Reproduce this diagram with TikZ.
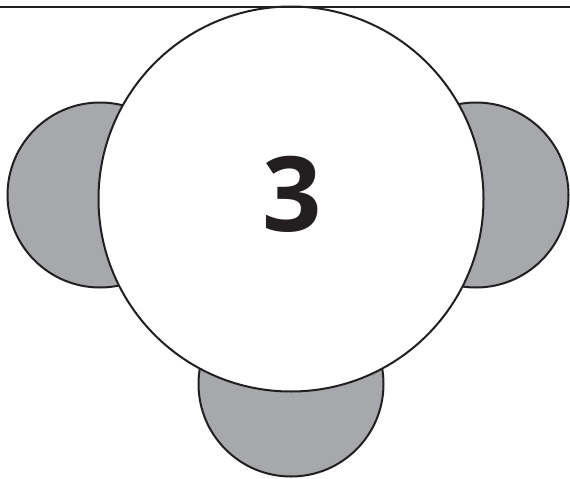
\documentclass[tikz,border=0pt]{standalone}
\usepackage{fontspec}
\usepackage{xcolor}
\usepackage{tikz}
\usetikzlibrary{positioning}
\newfontfamily\numfont{Open Sans}
\definecolor{inkline}{HTML}{231F20}
\definecolor{seatgray}{HTML}{A7A8AB}

\begin{document}
\begin{tikzpicture}[
  x=1pt, y=-1pt,
  seat/.style={circle, draw=inkline, line width=2pt, fill=seatgray, inner sep=0pt, minimum size=185pt},
  tablebox/.style={circle, draw=inkline, line width=2pt, fill=white, inner sep=0pt, minimum size=385pt,
    font=\numfont\bfseries\fontsize{104}{104}\selectfont, text=inkline},
  wall/.style={draw=inkline, line width=2.4pt},
]
\useasboundingbox (0,0) rectangle (570,479);

% Seats
\node[seat] (seatL) at (100,195) {};
\node[seat] (seatR) at (476,195) {};
\node[seat] (seatB) at (291,384) {};

% Table
\node[tablebox] (table) at (291,199) {};
\node[font=\numfont\bfseries\fontsize{104}{104}\selectfont, text=inkline, inner sep=0pt] (num) at (292.5,194) {3};

% Wall
\coordinate (wallL) at (0,7);
\coordinate (wallR) at (570,7);
\draw[wall] (wallL) -- (wallR);

\end{tikzpicture}
\end{document}
